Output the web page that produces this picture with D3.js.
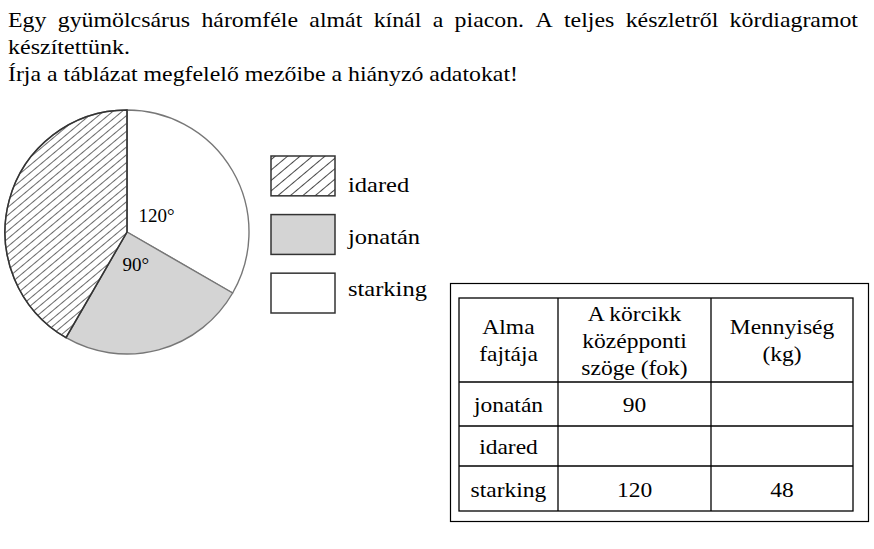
<!DOCTYPE html>
<html><head><meta charset="utf-8">
<script src="https://cdn.jsdelivr.net/npm/d3@7"></script>
<style>body{margin:0;background:#fff}svg{display:block}</style>
</head><body>
<script>
// ---- data ----
const titleLines = [
  "Egy gyümölcsárus háromféle almát kínál a piacon. A teljes készletről kördiagramot",
  "készítettünk.",
  "Írja a táblázat megfelelő mezőibe a hiányzó adatokat!"
];
const pieCategories = ["starking", "jonatan", "idared"];
const pieAngles = [120, 90, 150];
const pieLabels = ["120°", "90°", ""];
const legendCategories = ["idared", "jonatan", "starking"];
const legendLabels = ["idared", "jonatán", "starking"];
const tableHeader = [["Alma", "fajtája"], ["A körcikk", "középponti", "szöge (fok)"], ["Mennyiség", "(kg)"]];
const rowNames = ["jonatán", "idared", "starking"];
const rowAngles = ["90", "", "120"];
const rowMass = ["", "", "48"];

const W = 874, H = 549;
const FONT = "Liberation Serif";
const BASE = 22; // larger pixel sizes fall back to a sans face here
const svg = d3.select("body").append("svg").attr("width", W).attr("height", H);
const defs = svg.append("defs");

function hatch(id, spacing, angle, sw, color) {
  const p = defs.append("pattern").attr("id", id).attr("patternUnits", "userSpaceOnUse")
    .attr("width", spacing).attr("height", spacing)
    .attr("patternTransform", `rotate(${angle})`);
  p.append("rect").attr("width", spacing).attr("height", spacing).attr("fill", "#fff");
  p.append("line").attr("x1", 0).attr("y1", 0).attr("x2", 0).attr("y2", spacing)
    .attr("stroke", color).attr("stroke-width", sw);
}
hatch("hatchPie", 6, 50, 1.6, "#444");
hatch("hatchLeg", 8, 50, 1.8, "#333");

const fills = {starking: "#ffffff", jonatan: "#d4d4d4", idared: "url(#hatchPie)"};
const legFills = {starking: "#ffffff", jonatan: "#d4d4d4", idared: "url(#hatchLeg)"};

function txt(sel, size) {
  return sel.append("text").style("font-family", FONT).style("font-size", size + "px").attr("fill", "#000");
}
// 22px text, widened horizontally to mimic a larger size
function label(sel, x, y, size, s, anchor) {
  const t = txt(sel, BASE).attr("x", x).attr("y", y).attr("text-anchor", anchor || "start").text(s);
  const w = t.node().getComputedTextLength();
  t.attr("textLength", w * size / BASE).attr("lengthAdjust", "spacingAndGlyphs");
  return t;
}

// ---- title ----
const tg = svg.append("g");
const baselines = [27, 54, 81];
const l3 = txt(tg, BASE).attr("x", 8).attr("y", baselines[2]).text(titleLines[2]);
const k = 510 / l3.node().getComputedTextLength();
l3.attr("textLength", 510).attr("lengthAdjust", "spacingAndGlyphs");
txt(tg, BASE).attr("x", 8).attr("y", baselines[1]).text(titleLines[1])
  .attr("textLength", 122).attr("lengthAdjust", "spacingAndGlyphs");
{
  const words = titleLines[0].split(" ");
  const x0 = 8, x1 = 858;
  const ws = words.map(w => {
    const t = txt(tg, BASE).attr("y", baselines[0]).text(w);
    const wd = t.node().getComputedTextLength() * k;
    t.attr("textLength", wd).attr("lengthAdjust", "spacingAndGlyphs");
    return {t, w: wd};
  });
  const total = d3.sum(ws, d => d.w);
  const gap = (x1 - x0 - total) / (words.length - 1);
  let x = x0;
  ws.forEach(d => { d.t.attr("x", x); x += d.w + gap; });
}

// ---- pie ----
const cx = 127, cy = 232, R = 122;
const pieData = pieCategories.map((c, i) => ({cat: c, value: pieAngles[i], label: pieLabels[i]}));
const pie = d3.pie().sort(null).value(d => d.value);
const arcs = pie(pieData);
const arc = d3.arc().innerRadius(0).outerRadius(R);
const labelArc = d3.arc().innerRadius(34).outerRadius(34);
const pg = svg.append("g").attr("transform", `translate(${cx},${cy})`);
pg.selectAll("path").data(arcs).join("path")
  .attr("d", arc)
  .attr("fill", d => fills[d.data.cat])
  .attr("stroke", "#777")
  .attr("stroke-width", 1.4)
  .attr("stroke-linejoin", "round");
pg.append("path").datum(arcs[2]).attr("d", arc).attr("fill", "none")
  .attr("stroke", "#333").attr("stroke-width", 1.5);
arcs.filter(d => d.data.label).forEach(d => {
  txt(pg, 19).attr("transform", `translate(${labelArc.centroid(d)})`)
    .attr("text-anchor", "middle").attr("dominant-baseline", "central")
    .text(d.data.label);
});

// ---- legend ----
const ly = d3.scaleBand().domain(legendCategories).range([156, 313]).paddingInner(0.32);
const lty = d3.scalePoint().domain(legendCategories).range([192, 296]);
const lg = svg.append("g");
legendCategories.forEach((c, i) => {
  lg.append("rect").attr("x", 271).attr("y", ly(c)).attr("width", 64).attr("height", ly.bandwidth())
    .attr("fill", legFills[c]).attr("stroke", "#333").attr("stroke-width", 1.5);
  label(lg, 348, lty(c), 24.5, legendLabels[i]);
});

// ---- table ----
const tgT = svg.append("g");
tgT.append("rect").attr("x", 450.5).attr("y", 283.5).attr("width", 418).attr("height", 238)
  .attr("fill", "none").attr("stroke", "#000").attr("stroke-width", 1.2);
const colX = [459, 558, 711, 853];
const rowY = [298, 382, 426, 466, 511];
tgT.append("rect").attr("x", colX[0]).attr("y", rowY[0]).attr("width", colX[3] - colX[0]).attr("height", rowY[4] - rowY[0])
  .attr("fill", "none").attr("stroke", "#000").attr("stroke-width", 1.3);
colX.slice(1, 3).forEach(x => tgT.append("line").attr("x1", x).attr("x2", x).attr("y1", rowY[0]).attr("y2", rowY[4]).attr("stroke", "#000").attr("stroke-width", 1.3));
rowY.slice(1, 4).forEach(y => tgT.append("line").attr("x1", colX[0]).attr("x2", colX[3]).attr("y1", y).attr("y2", y).attr("stroke", "#000").attr("stroke-width", 1.3));
const colC = i => (colX[i] + colX[i + 1]) / 2;
const lineH = 27;
const TS = 23.5;
tableHeader.forEach((lines, i) => {
  const mid = (rowY[0] + rowY[1]) / 2 + 7.5;
  const start = mid - (lines.length - 1) * lineH / 2;
  lines.forEach((s, j) => label(tgT, colC(i), start + j * lineH, TS, s, "middle"));
});
rowNames.forEach((n, r) => {
  const y = (rowY[r + 1] + rowY[r + 2]) / 2 + 8;
  [n, rowAngles[r], rowMass[r]].forEach((s, i) => {
    if (s) label(tgT, colC(i), y, TS, s, "middle");
  });
});
</script>
</body></html>
